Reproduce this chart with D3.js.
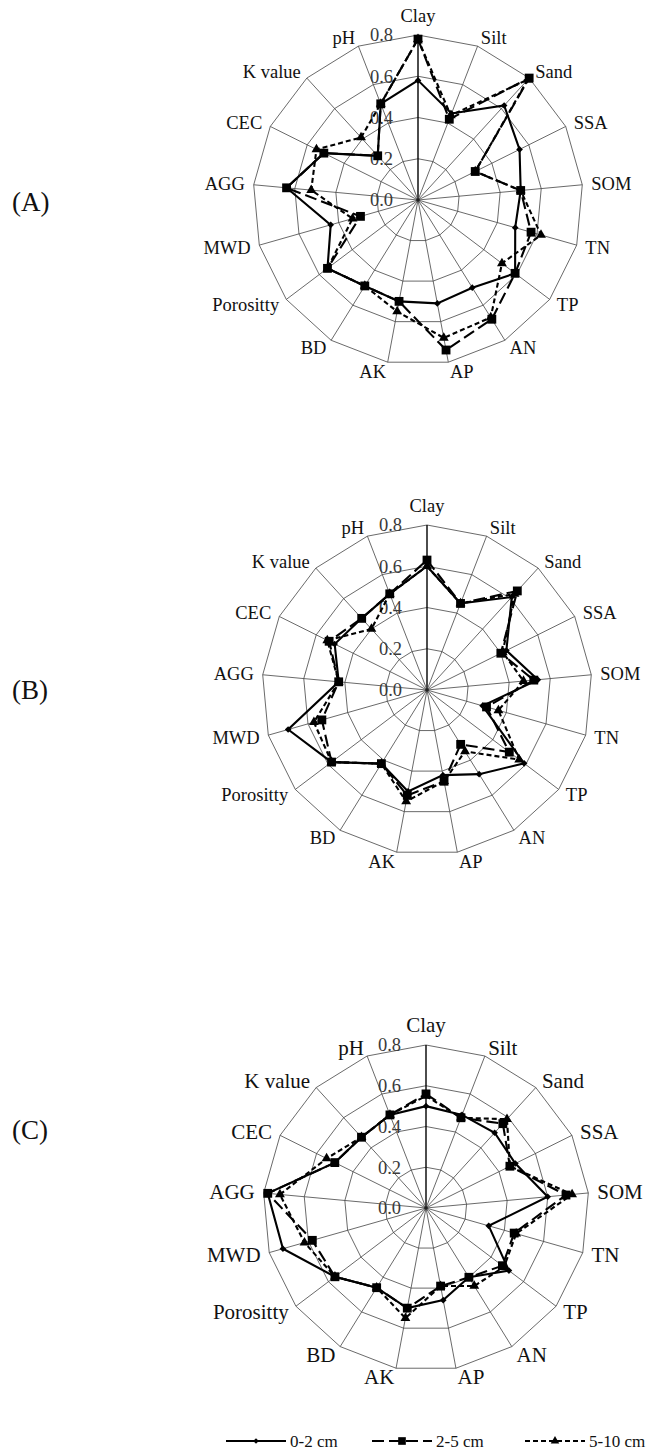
<!DOCTYPE html>
<html>
<head>
<meta charset="utf-8">
<script src="https://cdn.jsdelivr.net/npm/d3@7"></script>
<style>
  body { margin: 0; background: #fff; }
  svg { display: block; }
  text { font-family: "Liberation Serif", "Times New Roman", serif; fill: #111; }
</style>
</head>
<body>
<svg id="chart" width="656" height="1450"></svg>
<script>
// categories, ticks and series
const axes = ["Clay", "Silt", "Sand", "SSA", "SOM", "TN", "TP", "AN", "AP", "AK",
              "BD", "Porositty", "MWD", "AGG", "CEC", "K value", "pH"];
const ticks = [0, 0.2, 0.4, 0.6, 0.8];
const depths = ["0-2 cm", "2-5 cm", "5-10 cm"];

// (A)
const a_0_2  = [0.58, 0.45, 0.62, 0.55, 0.50, 0.49, 0.59, 0.50, 0.51, 0.50, 0.49, 0.55, 0.44, 0.64, 0.51, 0.29, 0.50];
const a_2_5  = [0.78, 0.42, 0.80, 0.31, 0.50, 0.57, 0.59, 0.68, 0.74, 0.50, 0.49, 0.55, 0.29, 0.64, 0.51, 0.29, 0.50];
const a_5_10 = [0.78, 0.44, 0.79, 0.31, 0.50, 0.62, 0.51, 0.67, 0.68, 0.55, 0.49, 0.55, 0.33, 0.52, 0.55, 0.41, 0.50];
// (B)
const b_0_2  = [0.60, 0.45, 0.61, 0.43, 0.54, 0.28, 0.59, 0.48, 0.42, 0.50, 0.42, 0.58, 0.70, 0.43, 0.50, 0.47, 0.50];
const b_2_5  = [0.63, 0.45, 0.65, 0.40, 0.52, 0.30, 0.50, 0.31, 0.45, 0.52, 0.42, 0.58, 0.53, 0.43, 0.53, 0.47, 0.50];
const b_5_10 = [0.60, 0.45, 0.63, 0.41, 0.47, 0.36, 0.56, 0.35, 0.45, 0.55, 0.42, 0.58, 0.57, 0.43, 0.54, 0.40, 0.50];
// (C)
const c_0_2  = [0.50, 0.49, 0.50, 0.49, 0.60, 0.32, 0.51, 0.40, 0.46, 0.50, 0.46, 0.56, 0.73, 0.78, 0.50, 0.47, 0.49];
const c_2_5  = [0.56, 0.475, 0.56, 0.46, 0.69, 0.45, 0.47, 0.40, 0.39, 0.50, 0.46, 0.56, 0.58, 0.78, 0.50, 0.47, 0.49];
const c_5_10 = [0.55, 0.475, 0.59, 0.46, 0.72, 0.46, 0.48, 0.45, 0.39, 0.55, 0.46, 0.56, 0.62, 0.72, 0.545, 0.47, 0.49];

const panels = [
    {name: "(A)", cx: 418, cy: 200,  R: 165, font: 18.5, tagY: 202,  series: [a_0_2, a_2_5, a_5_10]},
    {name: "(B)", cx: 427, cy: 690,  R: 165, font: 18.5, tagY: 690,  series: [b_0_2, b_2_5, b_5_10]},
    {name: "(C)", cx: 426, cy: 1208, R: 163, font: 21,   tagY: 1130, series: [c_0_2, c_2_5, c_5_10]}
];

// how each depth is drawn
const styles = [
    {dash: null,  symbol: d3.symbolSquare,   size: 22, rotate: 45},   // diamond
    {dash: "12,5", symbol: d3.symbolSquare,  size: 78, rotate: 0},
    {dash: "5,3",  symbol: d3.symbolTriangle, size: 42, rotate: 0}
];

const svg = d3.select("#chart");
const angle = d3.scaleLinear().domain([0, axes.length]).range([0, 2 * Math.PI]);

function drawRadar(p) {
    const r = d3.scaleLinear().domain([0, 0.8]).range([0, p.R]);
    const g = svg.append("g").attr("transform", `translate(${p.cx},${p.cy})`);

    // rings
    const ring = d3.lineRadial()
        .angle((d, i) => angle(i))
        .radius(d => r(d))
        .curve(d3.curveLinearClosed);
    g.selectAll(".ring").data(ticks.slice(1)).enter()
        .append("path")
        .attr("d", t => ring(axes.map(() => t)))
        .attr("fill", "none")
        .attr("stroke", "#444")
        .attr("stroke-width", 0.8);

    // spokes
    g.selectAll(".spoke").data(axes).enter()
        .append("line")
        .attr("x1", 0).attr("y1", 0)
        .attr("x2", (d, i) => r(0.8) * Math.sin(angle(i)))
        .attr("y2", (d, i) => -r(0.8) * Math.cos(angle(i)))
        .attr("stroke", (d, i) => i === 0 ? "#000" : "#444")
        .attr("stroke-width", (d, i) => i === 0 ? 1.4 : 0.8);

    // tick labels along Clay axis
    g.selectAll(".tick").data(ticks).enter()
        .append("text")
        .attr("x", -25)
        .attr("y", t => -r(t))
        .attr("dy", "0.35em")
        .attr("text-anchor", "end")
        .style("font-size", "18.5px")
        .style("fill", "#3a3a3a")
        .text(t => t.toFixed(1));

    // category labels
    const lr = p.R + 9;
    g.selectAll(".lab").data(axes).enter()
        .append("text")
        .each(function(d, i) {
            let s = Math.sin(angle(i)), c = -Math.cos(angle(i));
            let t = d3.select(this);
            if (i === 0) {
                t.attr("x", 0).attr("y", -(p.R + 13)).attr("text-anchor", "middle");
            } else {
                t.attr("x", lr * s).attr("y", lr * c).attr("dy", "0.35em")
                 .attr("text-anchor", s > 0 ? "start" : "end");
            }
        })
        .style("font-size", p.font + "px")
        .text(d => d);

    // series, deepest first so 0-2 cm sits on top
    for (let k = p.series.length - 1; k >= 0; k--) {
        let vals = p.series[k];
        let st = styles[k];
        let line = d3.lineRadial()
            .angle((d, i) => angle(i))
            .radius(d => r(d))
            .curve(d3.curveLinearClosed);
        g.append("path")
            .attr("d", line(vals))
            .attr("fill", "none")
            .attr("stroke", "#000")
            .attr("stroke-width", 2.1)
            .attr("stroke-dasharray", st.dash);
        g.selectAll(".m" + k).data(vals).enter()
            .append("path")
            .attr("d", d3.symbol().type(st.symbol).size(st.size))
            .attr("transform", (d, i) =>
                `translate(${r(d) * Math.sin(angle(i))},${-r(d) * Math.cos(angle(i))}) rotate(${st.rotate})`)
            .attr("fill", "#000");
    }

    // small dot at centre
    g.append("circle").attr("r", 1.8).attr("fill", "#222");

    svg.append("text")
        .attr("x", 12).attr("y", p.tagY)
        .attr("dy", "0.35em")
        .style("font-size", "27px")
        .text(p.name);
}

panels.forEach(drawRadar);

// legend
const legendX = [226, 372, 525];
const legendW = 60;
const ly = 1441;
const lg = svg.append("g");
depths.forEach((d, k) => {
    let st = styles[k];
    let x0 = legendX[k], x1 = legendX[k] + legendW;
    lg.append("line")
        .attr("x1", x0).attr("x2", x1).attr("y1", ly).attr("y2", ly)
        .attr("stroke", "#000").attr("stroke-width", 2)
        .attr("stroke-dasharray", st.dash);
    lg.append("path")
        .attr("d", d3.symbol().type(st.symbol).size(st.size * 0.75))
        .attr("transform", `translate(${(x0 + x1) / 2},${ly}) rotate(${st.rotate})`)
        .attr("fill", "#000");
    lg.append("text")
        .attr("x", x1 + 4).attr("y", ly).attr("dy", "0.35em")
        .style("font-size", "17px")
        .text(d);
});
</script>
</body>
</html>
